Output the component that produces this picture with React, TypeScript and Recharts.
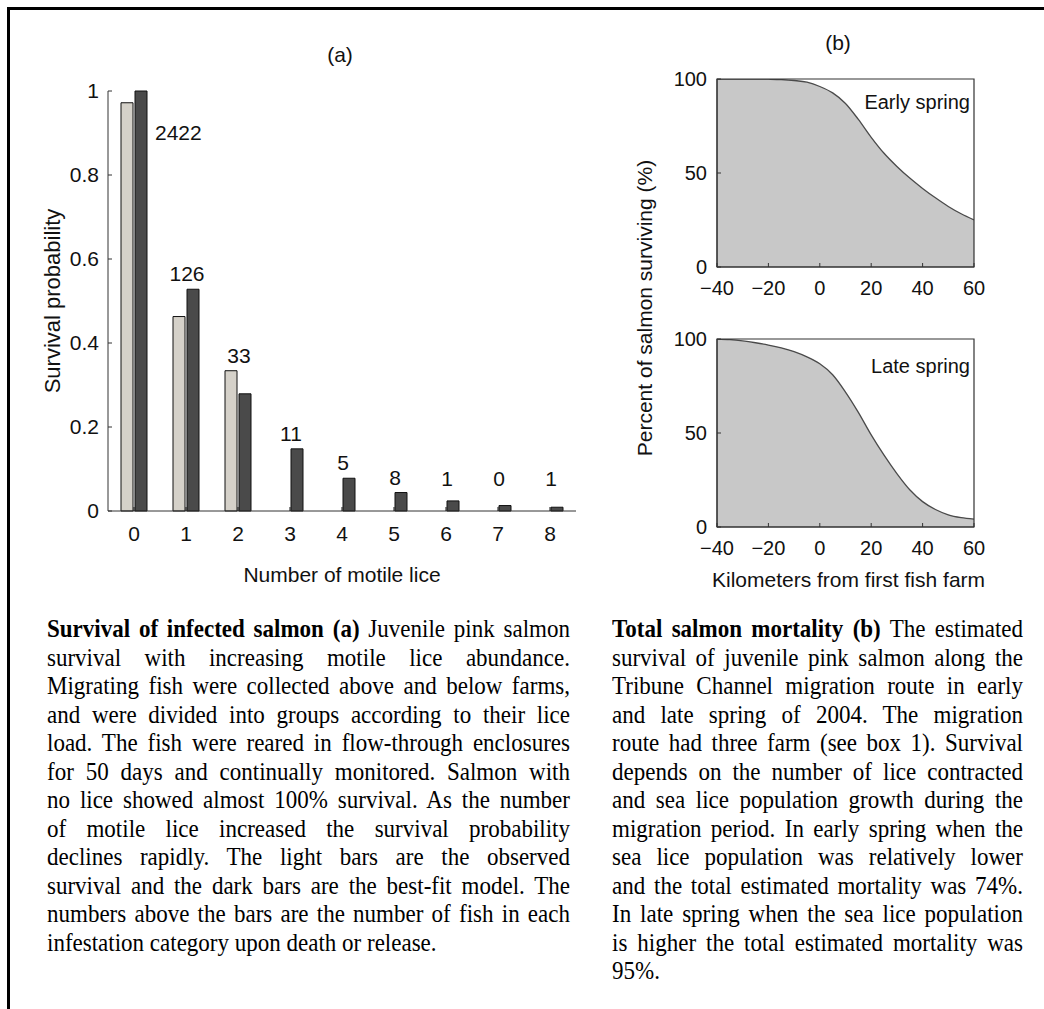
import React from 'react';
import { Area, AreaChart, Bar, BarChart, Label, LabelList, ReferenceArea, XAxis, YAxis } from 'recharts';

const SANS = '"Liberation Sans", Arial, Helvetica, sans-serif';
const SERIF = '"Liberation Serif", "Times New Roman", serif';

// (a) survival vs number of motile lice
const liceCounts = ['0', '1', '2', '3', '4', '5', '6', '7', '8'];
const observedSurvival = [0.972, 0.463, 0.334, 0, 0, 0, 0, 0, 0];
const modelSurvival = [1.0, 0.528, 0.279, 0.148, 0.078, 0.044, 0.024, 0.013, 0.009];
const fishCounts = [2422, 126, 33, 11, 5, 8, 1, 0, 1];
const survivalTicks = [0, 0.2, 0.4, 0.6, 0.8, 1];

// (b) percent surviving along the migration route
const kmFromFarm = [-40, -35, -30, -25, -20, -15, -10, -5, 0, 5, 10, 15, 20, 25, 30, 35, 40, 45, 50, 55, 60];
const earlySpring = [100, 100, 100, 100, 99.9, 99.7, 99.2, 98.3, 96, 92.6, 87, 78.5, 69, 60.5, 53.5, 47.3, 41.8, 36.8, 32.2, 28.3, 25];
const lateSpring = [100, 99.7, 99, 98, 96.8, 95.3, 93.3, 90.5, 86.8, 81, 71.8, 61, 49, 38.2, 28.4, 19.8, 13.5, 9.3, 6.5, 5, 4.2];
const kmTicks = [-40, -20, 0, 20, 40, 60];
const percentTicks = [0, 50, 100];

const captionA = [
  'Juvenile pink salmon',
  'survival with increasing motile lice abundance.',
  'Migrating fish were collected above and below farms,',
  'and were divided into groups according to their lice',
  'load. The fish were reared in flow-through enclosures',
  'for 50 days and continually monitored. Salmon with',
  'no lice showed almost 100% survival. As the number',
  'of motile lice increased the survival probability',
  'declines rapidly. The light bars are the observed',
  'survival and the dark bars are the best-fit model. The',
  'numbers above the bars are the number of fish in each',
  'infestation category upon death or release.',
];
const captionB = [
  'The estimated',
  'survival of juvenile pink salmon along the',
  'Tribune Channel migration route in early',
  'and late spring of 2004. The migration',
  'route had three farm (see box 1). Survival',
  'depends on the number of lice contracted',
  'and sea lice population growth during the',
  'migration period. In early spring when the',
  'sea lice population was relatively lower',
  'and the total estimated mortality was 74%.',
  'In late spring when the sea lice population',
  'is higher the total estimated mortality was',
  '95%.',
];

const barData = liceCounts.map((lice, i) => ({
  lice,
  observed: observedSurvival[i],
  model: modelSurvival[i],
  fish: fishCounts[i],
}));

const earlyData = kmFromFarm.map((km, i) => ({ km, survival: earlySpring[i] }));
const lateData = kmFromFarm.map((km, i) => ({ km, survival: lateSpring[i] }));

const fmtKm = (v: number) => (v < 0 ? `\u2212${Math.abs(v)}` : `${v}`);

// count label above the bar pair (beside the first, tallest one)
const CountLabel = (props: any) => {
  const vb = props.viewBox && props.viewBox.width !== undefined ? props.viewBox : props;
  const { x, y, width, height } = vb;
  const index = props.index ?? 0;
  const base = y + height;
  const perUnit = height / modelSurvival[index];
  const obsTop = base - observedSurvival[index] * perUnit;
  const top = Math.min(y, obsTop);
  const style = { fontSize: 21, fontFamily: SANS, fill: '#111' };
  if (modelSurvival[index] > 0.9) {
    return (
      <text x={x + width + 8} y={base - 0.883 * perUnit} textAnchor="start" style={style}>
        {props.value}
      </text>
    );
  }
  const baseline = Math.min(top - 8, base - 0.06 * perUnit);
  return (
    <text x={x} y={baseline} textAnchor="middle" style={style}>
      {props.value}
    </text>
  );
};

const axisTick = (size: number) => ({ fill: '#111', fontSize: size, fontFamily: SANS });

function SurvivalPanel({ data, label, top }: { data: any[]; label: string; top: number }) {
  return (
    <div style={{ position: 'absolute', left: 620, top }}>
      <AreaChart width={400} height={290} data={data} margin={{ top: 49, right: 46, bottom: 23, left: 57 }}>
        <XAxis
          dataKey="km"
          type="number"
          domain={[-40, 60]}
          ticks={kmTicks}
          tickFormatter={fmtKm}
          height={30}
          tickSize={-4}
          tickMargin={18}
          axisLine={{ stroke: '#333' }}
          tickLine={{ stroke: '#333' }}
          tick={axisTick(20)}
          allowDataOverflow
        />
        <YAxis
          type="number"
          domain={[0, 100]}
          ticks={percentTicks}
          width={40}
          tickSize={-4}
          tickMargin={14}
          axisLine={{ stroke: '#333' }}
          tickLine={{ stroke: '#333' }}
          tick={axisTick(20)}
          allowDataOverflow
        />
        <Area
          dataKey="survival"
          type="monotone"
          fill="#c8c8c8"
          fillOpacity={1}
          stroke="#4a4a4a"
          strokeWidth={1.3}
          isAnimationActive={false}
        />
        {/* axes box */}
        <ReferenceArea x1={-40} x2={60} y1={0} y2={100} fill="none" stroke="#333" strokeWidth={1.2} />
      </AreaChart>
      <div
        style={{
          position: 'absolute',
          right: 400 - 350,
          top: label === 'Early spring' ? 61 : 65,
          fontFamily: SANS,
          fontSize: 20,
          color: '#111',
          whiteSpace: 'nowrap',
        }}
      >
        {label}
      </div>
    </div>
  );
}

const CAPTION_SQUEEZE = 0.92;

function Caption({ bold, lines, left, width }: { bold: string; lines: string[]; left: number; width: number }) {
  return (
    <div
      style={{
        position: 'absolute',
        left,
        top: 615,
        width: width / CAPTION_SQUEEZE,
        transform: `scaleX(${CAPTION_SQUEEZE})`,
        transformOrigin: 'left top',
        fontFamily: SERIF,
        fontSize: 25,
        lineHeight: '28.5px',
        color: '#000',
      }}
    >
      {lines.map((line, i) => (
        <div
          key={i}
          style={{ textAlign: 'justify', textAlignLast: i === lines.length - 1 ? 'left' : 'justify' } as any}
        >
          {i === 0 ? (
            <>
              <b>{bold}</b> {line}
            </>
          ) : (
            line
          )}
        </div>
      ))}
    </div>
  );
}

export default function App() {
  return (
    <div
      style={{
        position: 'absolute',
        left: 0,
        top: 0,
        width: 1044,
        height: 1009,
        background: '#fff',
        overflow: 'hidden',
      }}
    >
      <div
        style={{
          position: 'absolute',
          left: 7,
          top: 7,
          width: 1060,
          height: 1020,
          borderTop: '3px solid #000',
          borderLeft: '3px solid #000',
        }}
      />

      {/* (a) */}
      <div style={{ position: 'absolute', left: 0, top: 0 }}>
        <BarChart
          width={600}
          height={600}
          data={barData}
          margin={{ top: 91, right: 24, bottom: 59, left: 48 }}
          barSize={12}
          barGap={2}
        >
          <XAxis
            dataKey="lice"
            interval={0}
            height={30}
            tickSize={-4}
            tickMargin={19}
            axisLine={{ stroke: '#333' }}
            tickLine={{ stroke: '#111' }}
            tick={axisTick(21)}
          >
            <Label
              value="Number of motile lice"
              position="bottom"
              offset={26}
              style={{ fontSize: 21, fontFamily: SANS, fill: '#111' }}
            />
          </XAxis>
          <YAxis
            type="number"
            domain={[0, 1]}
            ticks={survivalTicks}
            width={60}
            tickSize={-4}
            tickMargin={13}
            axisLine={{ stroke: '#333' }}
            tickLine={{ stroke: '#333' }}
            tick={axisTick(21)}
          >
            <Label
              value="Survival probability"
              angle={-90}
              position="insideLeft"
              offset={4}
              style={{ fontSize: 22, fontFamily: SANS, fill: '#111', textAnchor: 'middle' }}
            />
          </YAxis>
          <Bar dataKey="observed" fill="#d5d1c9" stroke="#111" strokeWidth={1} isAnimationActive={false} />
          <Bar dataKey="model" fill="#4a4a4a" stroke="#111" strokeWidth={1} isAnimationActive={false}>
            <LabelList dataKey="fish" content={CountLabel} />
          </Bar>
        </BarChart>
      </div>
      <div
        style={{
          position: 'absolute',
          left: 240,
          width: 200,
          top: 43,
          textAlign: 'center',
          fontFamily: SANS,
          fontSize: 21,
          color: '#111',
        }}
      >
        (a)
      </div>

      {/* (b) */}
      <div
        style={{
          position: 'absolute',
          left: 738,
          width: 200,
          top: 31,
          textAlign: 'center',
          fontFamily: SANS,
          fontSize: 21,
          color: '#111',
        }}
      >
        (b)
      </div>
      <SurvivalPanel data={earlyData} label="Early spring" top={30} />
      <SurvivalPanel data={lateData} label="Late spring" top={290} />
      <div
        style={{
          position: 'absolute',
          left: 645 - 200,
          top: 308 - 13,
          width: 400,
          textAlign: 'center',
          fontFamily: SANS,
          fontSize: 21,
          lineHeight: '26px',
          color: '#111',
          transform: 'rotate(-90deg)',
          whiteSpace: 'nowrap',
        }}
      >
        Percent of salmon surviving (%)
      </div>
      <div
        style={{
          position: 'absolute',
          left: 712,
          top: 568,
          fontFamily: SANS,
          fontSize: 21,
          color: '#111',
          whiteSpace: 'nowrap',
        }}
      >
        Kilometers from first fish farm
      </div>

      <Caption bold="Survival of infected salmon (a)" lines={captionA} left={47} width={523} />
      <Caption bold="Total salmon mortality (b)" lines={captionB} left={612} width={411} />
    </div>
  );
}
